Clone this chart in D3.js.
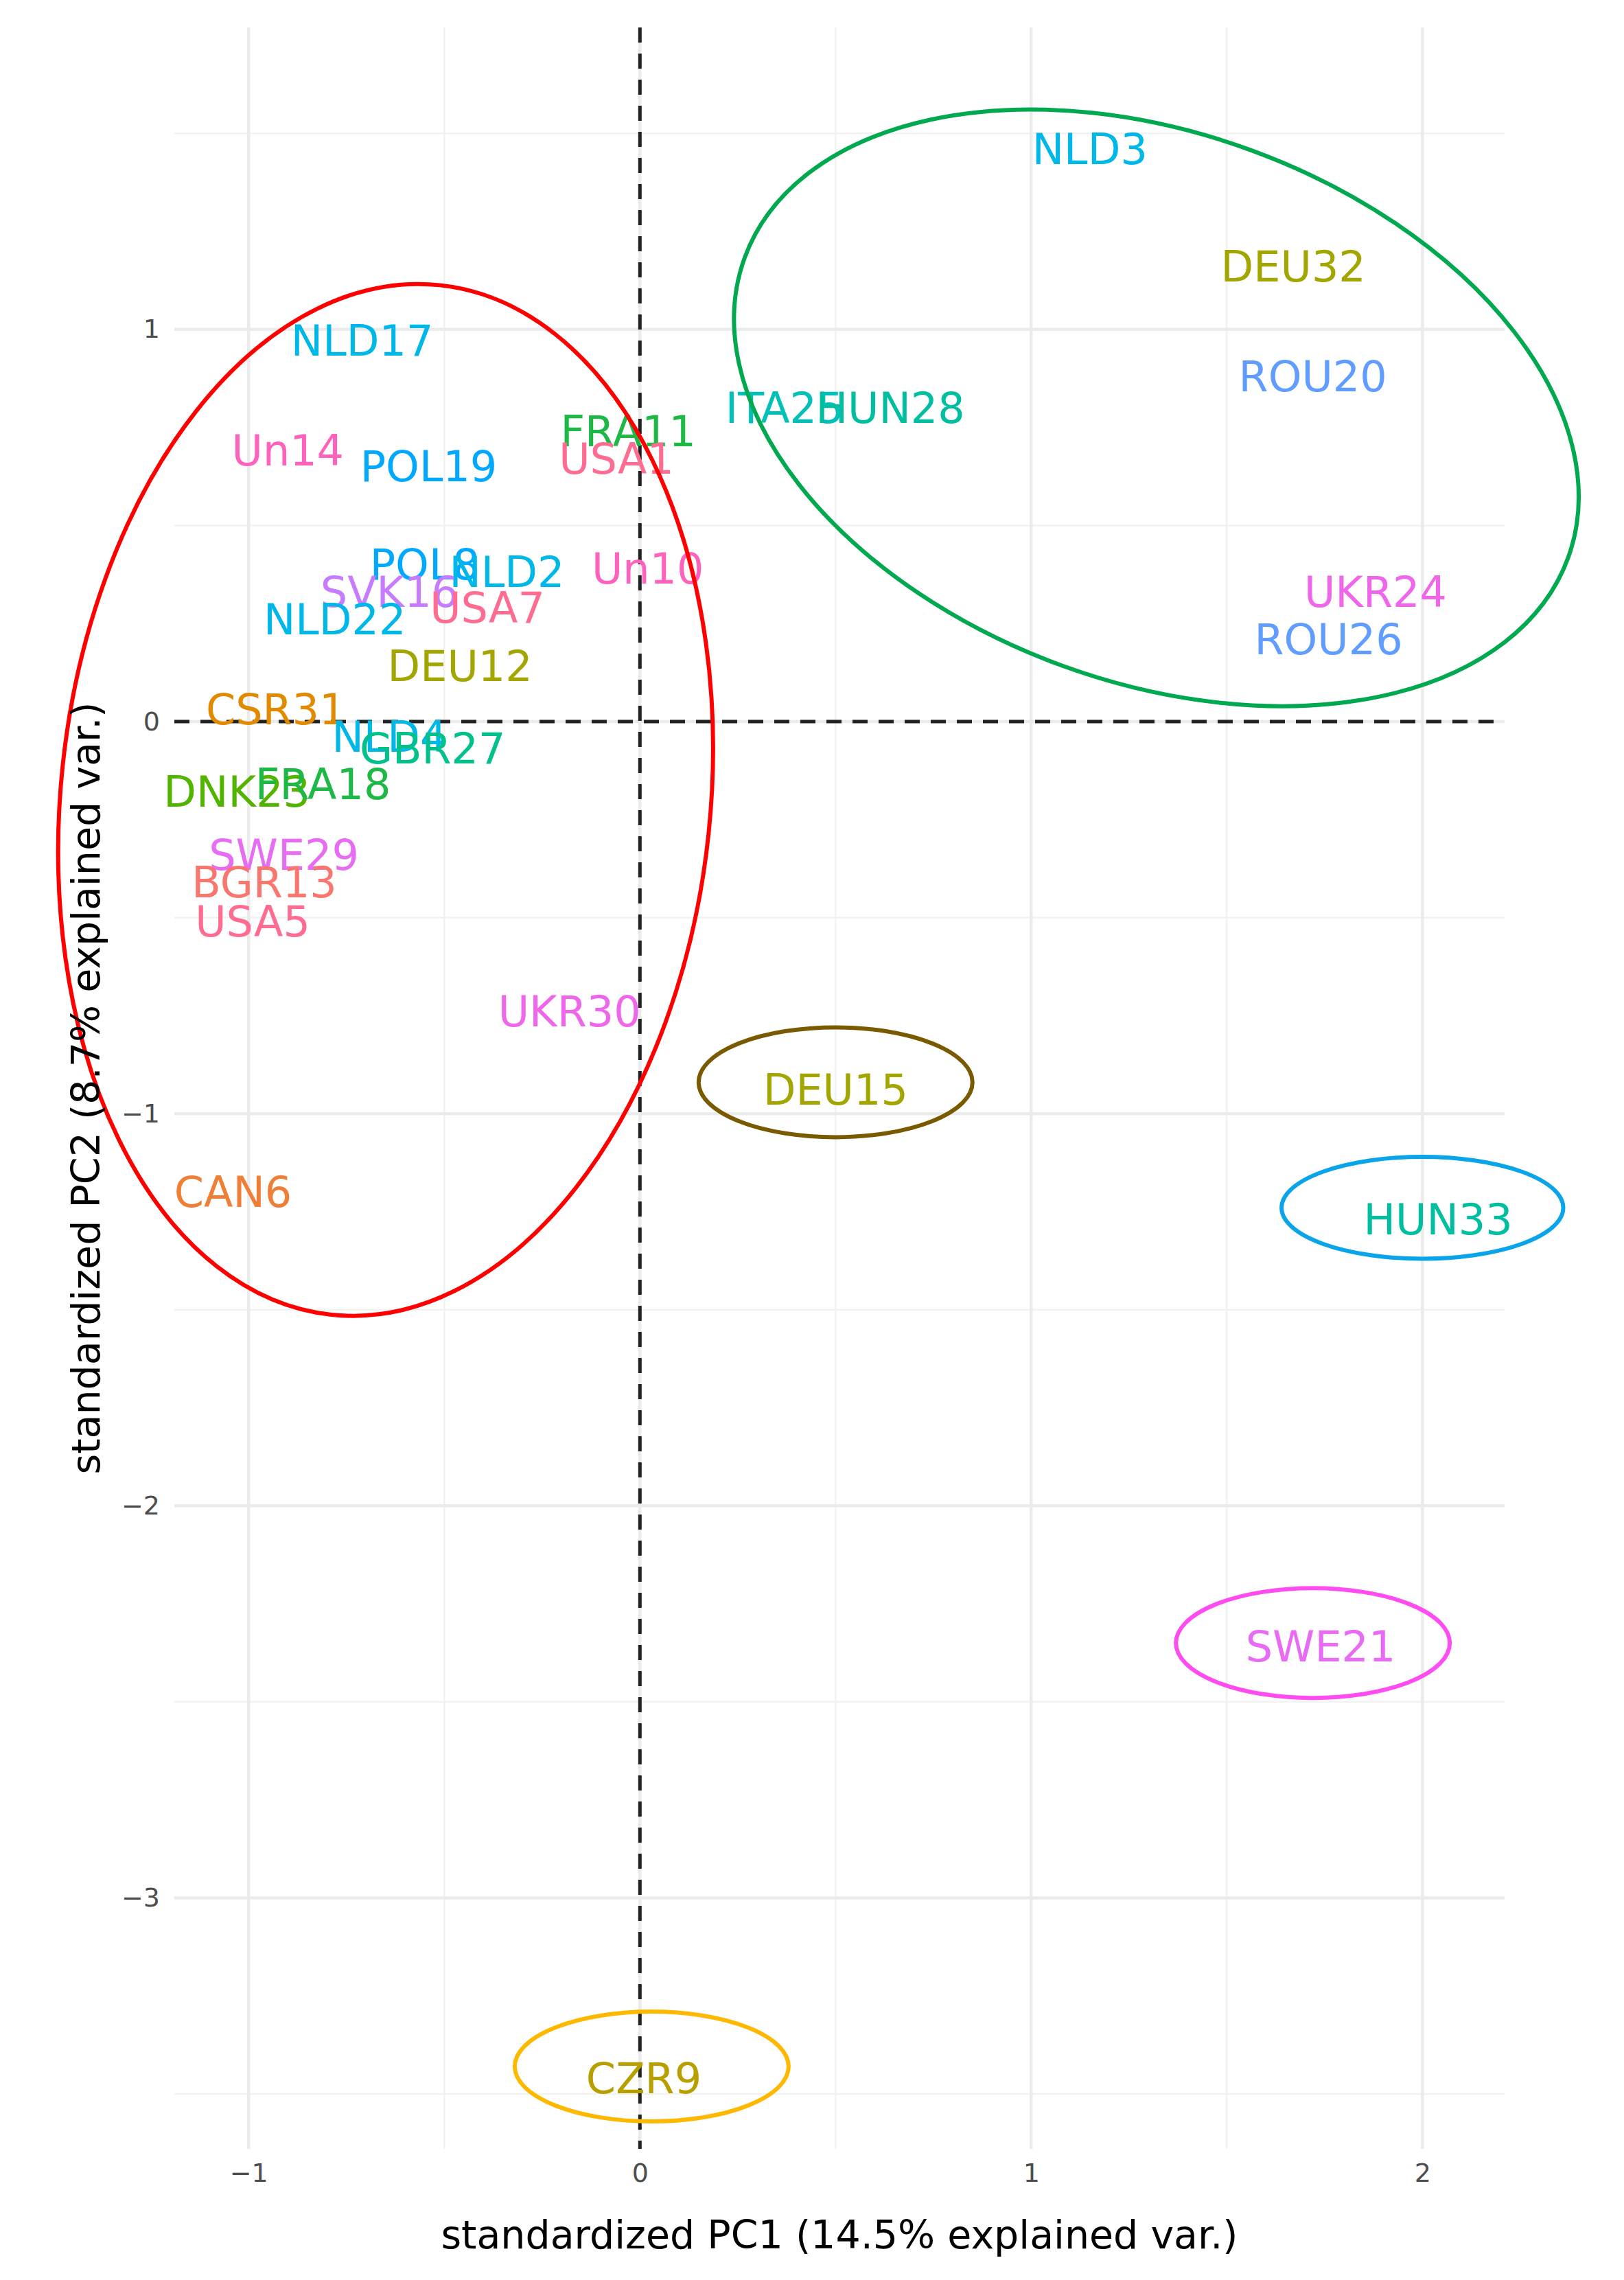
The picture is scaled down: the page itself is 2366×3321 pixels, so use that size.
<!DOCTYPE html>
<html>
<head>
<meta charset="UTF-8">
<script src="https://d3js.org/d3.v7.min.js"></script>
<style>body{margin:0;background:#fff}</style>
</head>
<body>
<div id="chart"></div>
<script>
// sample labels and standardized PC scores
const labels = ["NLD3","DEU32","ROU20","ITA25","HUN28","UKR24","ROU26","NLD17","Un14","POL19",
  "FRA11","USA1","POL8","NLD2","Un10","SVK16","USA7","NLD22","DEU12","CSR31","NLD4","GBR27",
  "DNK23","FRA18","SWE29","BGR13","USA5","UKR30","CAN6","DEU15","HUN33","SWE21","CZR9"];
const pc1 = [1.15,1.67,1.72,0.37,0.64,1.88,1.76,-0.71,-0.90,-0.54,
  -0.03,-0.06,-0.55,-0.34,0.02,-0.64,-0.39,-0.78,-0.46,-0.93,-0.64,-0.53,
  -1.03,-0.81,-0.91,-0.96,-0.99,-0.18,-1.04,0.50,2.04,1.74,0.01];
const pc2 = [1.46,1.16,0.88,0.80,0.80,0.33,0.21,0.97,0.69,0.65,
  0.74,0.67,0.40,0.38,0.39,0.33,0.29,0.26,0.14,0.03,-0.04,-0.07,
  -0.18,-0.16,-0.34,-0.41,-0.51,-0.74,-1.20,-0.94,-1.27,-2.36,-3.46];
const countries = ["BGR","CAN","CSR","CZR","DEU","DNK","FRA","GBR","HUN","ITA","NLD","POL","ROU","SVK","SWE","UKR","USA","Un"];
const countryColors = ["#F8766D","#EF7F37","#E18A00","#B79F00","#A3A500","#53B400","#1DB846","#00C08B","#00BFA0","#00C0B8",
  "#00B8E7","#00A9FF","#619CFF","#C77CFF","#E76BF3","#F066EA","#FF6C91","#FF62BC"];
// cluster ellipses (data units)
const ellCx = [-0.65, 1.32, 0.50, 2.00, 1.72, 0.03];
const ellCy = [-0.20, 0.80, -0.92, -1.24, -2.35, -3.43];
const ellRx = [0.83, 1.12, 0.35, 0.36, 0.35, 0.35];
const ellRy = [1.32, 0.70, 0.14, 0.13, 0.14, 0.14];
const ellAngle = [6, 20, 0, 0, 0, 0];
const ellColors = ["#FF0000","#00A84F","#7A5A00","#0AA5E8","#FF4CF0","#FFB800"];
const xTicks = [-1, 0, 1, 2];
const yTicks = [1, 0, -1, -2, -3];

const W = 2366, H = 3321;
const mLeft = 254, mRight = 2192, mTop = 40, mBottom = 3130;

const x = d3.scaleLinear().domain([-1.19, 2.21]).range([mLeft, mRight]);
const y = d3.scaleLinear().domain([1.77, -3.64]).range([mTop, mBottom]);
const color = d3.scaleOrdinal().domain(countries).range(countryColors);

const svg = d3.select("#chart").append("svg").attr("width", W).attr("height", H)
  .style("font-family", "DejaVu Sans");

svg.append("defs").append("clipPath").attr("id", "clip")
  .append("rect").attr("x", 0).attr("y", 0).attr("width", 2275).attr("height", H);

// grid
const g = svg.append("g");
const minorX = d3.range(-1, 2.01, 0.5).filter(v => v % 1 !== 0);
const minorY = d3.range(-3.5, 1.51, 0.5).filter(v => v % 1 !== 0);
g.selectAll(".mx").data(minorX).join("line")
  .attr("x1", d => x(d)).attr("x2", d => x(d)).attr("y1", mTop).attr("y2", mBottom)
  .attr("stroke", "#f2f2f2").attr("stroke-width", 2.5);
g.selectAll(".my").data(minorY).join("line")
  .attr("y1", d => y(d)).attr("y2", d => y(d)).attr("x1", mLeft).attr("x2", mRight)
  .attr("stroke", "#f2f2f2").attr("stroke-width", 2.5);
g.selectAll(".gx").data(xTicks).join("line")
  .attr("x1", d => x(d)).attr("x2", d => x(d)).attr("y1", mTop).attr("y2", mBottom)
  .attr("stroke", "#ebebeb").attr("stroke-width", 4.5);
g.selectAll(".gy").data(yTicks).join("line")
  .attr("y1", d => y(d)).attr("y2", d => y(d)).attr("x1", mLeft).attr("x2", mRight)
  .attr("stroke", "#ebebeb").attr("stroke-width", 4.5);

// axes (labels only, like theme_minimal)
const xAxis = svg.append("g").attr("transform", `translate(0,${mBottom + 18})`)
  .call(d3.axisBottom(x).tickValues(xTicks).tickSize(0).tickFormat(d3.format("d")));
xAxis.select(".domain").remove();
xAxis.selectAll("text").attr("font-size", 38).attr("fill", "#4d4d4d").attr("font-family", "DejaVu Sans");
const yAxis = svg.append("g").attr("transform", `translate(${mLeft - 18},0)`)
  .call(d3.axisLeft(y).tickValues(yTicks).tickSize(0).tickFormat(d3.format("d")));
yAxis.select(".domain").remove();
yAxis.selectAll("text").attr("font-size", 38).attr("fill", "#4d4d4d").attr("font-family", "DejaVu Sans");

// dashed reference lines
svg.append("line").attr("x1", x(0)).attr("x2", x(0)).attr("y1", mTop).attr("y2", mBottom)
  .attr("stroke", "#222").attr("stroke-width", 5).attr("stroke-dasharray", "22,16");
svg.append("line").attr("x1", mLeft).attr("x2", mRight).attr("y1", y(0)).attr("y2", y(0))
  .attr("stroke", "#222").attr("stroke-width", 5).attr("stroke-dasharray", "22,16");

// labels
svg.append("g").attr("clip-path", "url(#clip)").selectAll("text").data(labels).join("text")
  .attr("x", (d, i) => x(pc1[i])).attr("y", (d, i) => y(pc2[i]))
  .attr("text-anchor", "middle").attr("dominant-baseline", "central")
  .attr("font-size", 62)
  .attr("fill", d => color(d.replace(/\d+$/, "")))
  .text(d => d);

// ellipses
svg.append("g").selectAll("ellipse").data(ellCx).join("ellipse")
  .attr("cx", 0).attr("cy", 0)
  .attr("rx", (d, i) => x(ellRx[i]) - x(0))
  .attr("ry", (d, i) => y(0) - y(ellRy[i]))
  .attr("transform", (d, i) => `translate(${x(ellCx[i])},${y(ellCy[i])}) rotate(${ellAngle[i]})`)
  .attr("fill", "none").attr("stroke", (d, i) => ellColors[i]).attr("stroke-width", 6);

// axis titles
svg.append("text").attr("x", (mLeft + mRight) / 2).attr("y", 3275).attr("text-anchor", "middle")
  .attr("font-size", 57).text("standardized PC1 (14.5% explained var.)");
svg.append("text").attr("transform", `translate(145,${(mTop + mBottom) / 2}) rotate(-90)`)
  .attr("text-anchor", "middle").attr("font-size", 57).text("standardized PC2 (8.7% explained var.)");
</script>
</body>
</html>
